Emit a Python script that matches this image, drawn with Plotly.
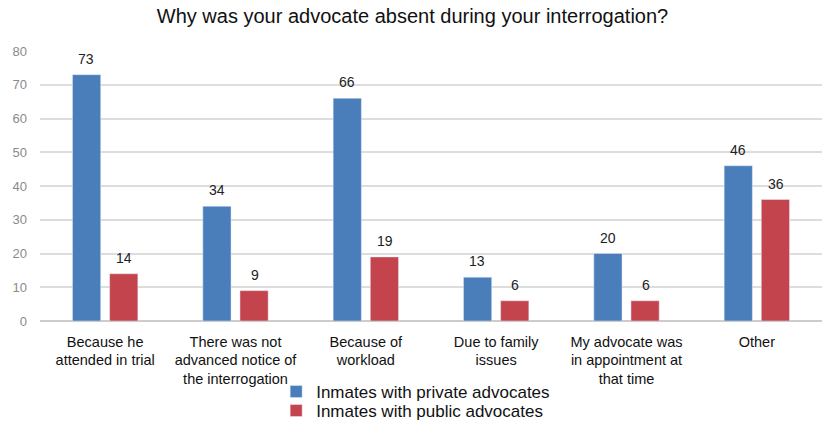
import plotly.graph_objects as go

categories = [
    "Because he<br>attended in trial",
    "There was not<br>advanced notice of<br>the interrogation",
    "Because of<br>workload",
    "Due to family<br>issues",
    "My advocate was<br>in appointment at<br>that time",
    "Other",
]
private_vals = [73, 34, 66, 13, 20, 46]
public_vals = [14, 9, 19, 6, 6, 36]

BLUE = "#4A7EBB"
RED = "#C4444E"

fig = go.Figure()
fig.add_trace(go.Bar(x=categories, y=private_vals, name="Inmates with private advocates",
                     marker_color=BLUE, legend="legend"))
fig.add_trace(go.Bar(x=categories, y=public_vals, name="Inmates with public advocates",
                     marker_color=RED, legend="legend2"))

# value labels a bit above each bar
for vals, dx in ((private_vals, -19), (public_vals, 19)):
    for cat, v in zip(categories, vals):
        fig.add_annotation(x=cat, y=v, text=str(v), showarrow=False,
                           xshift=dx, yshift=16,
                           font=dict(size=14, color="#222", family="Liberation Sans"))

leg = dict(orientation="v", xref="paper", x=0.302, xanchor="left",
           yref="container", yanchor="middle", bgcolor="rgba(0,0,0,0)",
           font=dict(size=17, color="#111"), itemwidth=30)

fig.update_layout(
    width=825, height=424,
    margin=dict(l=40, r=3, t=51, b=103),
    paper_bgcolor="white", plot_bgcolor="white",
    font=dict(family="Liberation Sans", color="#111"),
    title=dict(text="Why was your advocate absent during your interrogation?",
               x=0.5, xanchor="center", yref="container", y=0.978, yanchor="top",
               font=dict(size=20, color="#111")),
    barmode="group", bargap=0.43, bargroupgap=0.24,
    showlegend=True,
    legend=dict(leg, y=1 - 392 / 424),
    legend2=dict(leg, y=1 - 411 / 424),
)
fig.update_yaxes(range=[0, 80], dtick=10, showgrid=True, gridcolor="#DDDDDD",
                 gridwidth=1.5, zeroline=True, zerolinecolor="#CCCCCC",
                 zerolinewidth=1.5, tickfont=dict(size=13, color="#8A8A8A"),
                 ticks="", showline=False, automargin=False, ticklabelstandoff=12)
fig.update_xaxes(tickfont=dict(size=14.5, color="#111"), ticks="", showline=False,
                 tickangle=0, automargin=False, ticklabelstandoff=10)

fig.write_html("out.html", config={"displayModeBar": False},
               post_script="document.body.style.margin='0';")
